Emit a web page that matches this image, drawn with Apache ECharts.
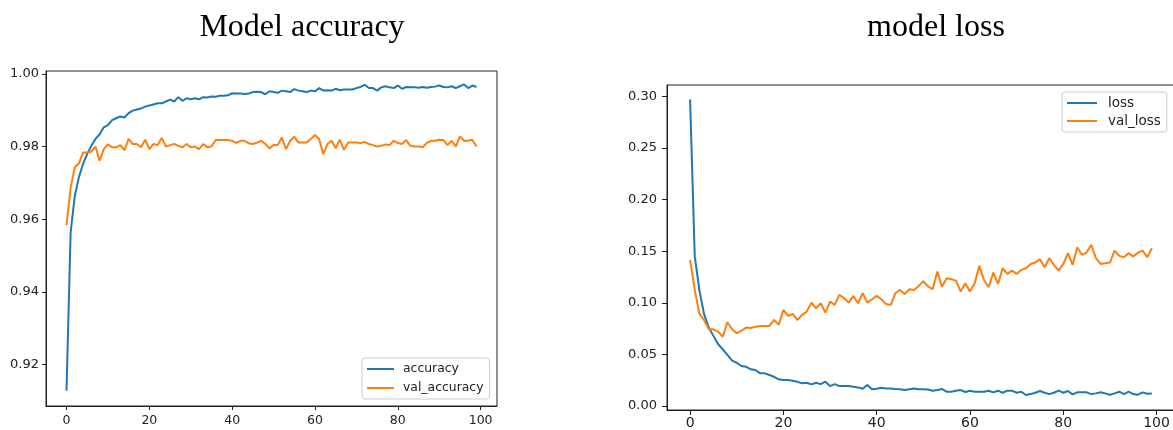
<!DOCTYPE html>
<html>
<head>
<meta charset="utf-8">
<script src="https://cdn.jsdelivr.net/npm/echarts@6/dist/echarts.min.js"></script>
<style>
html,body{margin:0;padding:0;background:#fff;overflow:hidden;}
#chart{width:1173px;height:430px;}
</style>
</head>
<body>
<div id="chart"></div>
<script>
// ---- data ----
const epochTicks = [0, 20, 40, 60, 80, 100];
const accTicks = [0.92, 0.94, 0.96, 0.98, 1.00];
const lossTicks = [0.00, 0.05, 0.10, 0.15, 0.20, 0.25, 0.30];

const accuracy = [
 0.9128,0.9564,0.9664,0.9716,0.9752,0.9780,0.9802,0.9821,0.9834,0.9853,
 0.9859,0.9873,0.9878,0.9883,0.9880,0.9892,0.9899,0.9902,0.9905,0.9910,
 0.9913,0.9916,0.9919,0.9919,0.9924,0.9929,0.9924,0.9936,0.9926,0.9933,
 0.9930,0.9933,0.9930,0.9936,0.9935,0.9938,0.9937,0.9940,0.9940,0.9941,
 0.9947,0.9946,0.9946,0.9945,0.9946,0.9950,0.9951,0.9950,0.9944,0.9952,
 0.9950,0.9948,0.9954,0.9952,0.9950,0.9958,0.9954,0.9952,0.9950,0.9954,
 0.9952,0.9961,0.9954,0.9955,0.9954,0.9959,0.9955,0.9957,0.9957,0.9957,
 0.9961,0.9964,0.9970,0.9961,0.9961,0.9954,0.9963,0.9966,0.9963,0.9961,
 0.9968,0.9959,0.9964,0.9963,0.9963,0.9962,0.9964,0.9962,0.9964,0.9965,
 0.9968,0.9964,0.9963,0.9966,0.9961,0.9966,0.9971,0.9961,0.9968,0.9964
];
const valAccuracy = [
 0.9584,0.9687,0.9743,0.9754,0.9784,0.9784,0.9786,0.9800,0.9761,0.9793,
 0.9806,0.9798,0.9798,0.9804,0.9790,0.9821,0.9807,0.9807,0.9798,0.9819,
 0.9793,0.9807,0.9804,0.9824,0.9800,0.9804,0.9807,0.9802,0.9798,0.9807,
 0.9798,0.9800,0.9793,0.9807,0.9798,0.9800,0.9818,0.9818,0.9818,0.9818,
 0.9816,0.9810,0.9816,0.9816,0.9809,0.9807,0.9811,0.9816,0.9807,0.9795,
 0.9804,0.9804,0.9825,0.9793,0.9816,0.9827,0.9811,0.9811,0.9811,0.9821,
 0.9832,0.9821,0.9779,0.9807,0.9816,0.9795,0.9819,0.9791,0.9811,0.9811,
 0.9811,0.9810,0.9813,0.9807,0.9804,0.9800,0.9802,0.9806,0.9804,0.9816,
 0.9810,0.9807,0.9818,0.9802,0.9800,0.9800,0.9798,0.9810,0.9816,0.9816,
 0.9819,0.9818,0.9804,0.9816,0.9800,0.9828,0.9816,0.9816,0.9819,0.9800
];
const loss = [
 0.2970,0.1450,0.1120,0.0890,0.0760,0.0680,0.0601,0.0550,0.0495,0.0440,
 0.0420,0.0388,0.0381,0.0356,0.0349,0.0317,0.0317,0.0301,0.0284,0.0259,
 0.0252,0.0252,0.0245,0.0236,0.0220,0.0226,0.0210,0.0226,0.0213,0.0236,
 0.0194,0.0213,0.0194,0.0194,0.0194,0.0187,0.0181,0.0168,0.0204,0.0162,
 0.0168,0.0178,0.0171,0.0171,0.0165,0.0162,0.0155,0.0162,0.0171,0.0162,
 0.0164,0.0160,0.0149,0.0155,0.0165,0.0139,0.0139,0.0149,0.0155,0.0136,
 0.0149,0.0139,0.0139,0.0139,0.0149,0.0133,0.0149,0.0129,0.0149,0.0149,
 0.0129,0.0139,0.0107,0.0116,0.0129,0.0146,0.0129,0.0116,0.0129,0.0149,
 0.0129,0.0146,0.0113,0.0133,0.0133,0.0133,0.0116,0.0123,0.0133,0.0123,
 0.0110,0.0123,0.0139,0.0116,0.0139,0.0116,0.0110,0.0133,0.0120,0.0123
];
const valLoss = [
 0.1416,0.1125,0.0892,0.0834,0.0744,0.0744,0.0721,0.0672,0.0812,0.0744,
 0.0705,0.0730,0.0760,0.0757,0.0769,0.0776,0.0776,0.0776,0.0834,0.0786,
 0.0931,0.0873,0.0892,0.0834,0.0883,0.0915,0.1002,0.0947,0.0996,0.0905,
 0.1012,0.0980,0.1077,0.1045,0.1002,0.1067,0.0996,0.1093,0.1002,0.1035,
 0.1067,0.1035,0.0989,0.0980,0.1093,0.1125,0.1086,0.1132,0.1125,0.1164,
 0.1209,0.1160,0.1132,0.1303,0.1157,0.1238,0.1228,0.1215,0.1109,0.1190,
 0.1109,0.1190,0.1358,0.1222,0.1151,0.1293,0.1183,0.1335,0.1280,0.1312,
 0.1280,0.1319,0.1335,0.1377,0.1390,0.1423,0.1345,0.1432,0.1368,0.1312,
 0.1377,0.1481,0.1368,0.1539,0.1465,0.1487,0.1562,0.1432,0.1377,0.1384,
 0.1390,0.1506,0.1455,0.1442,0.1481,0.1448,0.1487,0.1506,0.1442,0.1529
];

const BLUE = '#1f77b4', ORANGE = '#ff7f0e';
const pairs = arr => arr.map((v, i) => [i, v]);

function mkX(gi, fs, tickLen, margin) {
  return {
    type: 'value', gridIndex: gi, min: -4.95, max: 103.95,
    splitLine: { show: false },
    axisLine: { show: true, onZero: false, lineStyle: { color: '#222', width: 1 } },
    axisTick: { show: true, length: tickLen, customValues: epochTicks, lineStyle: { color: '#222' } },
    axisLabel: { customValues: epochTicks, fontSize: fs, color: '#222', margin: margin,
                 fontFamily: 'DejaVu Sans', formatter: v => String(v) }
  };
}
function mkY(gi, min, max, ticks, tickLen, margin) {
  return {
    type: 'value', gridIndex: gi, min: min, max: max,
    splitLine: { show: false },
    axisLine: { show: true, onZero: false, lineStyle: { color: '#222', width: 1 } },
    axisTick: { show: true, length: tickLen, customValues: ticks, lineStyle: { color: '#222' } },
    axisLabel: { customValues: ticks, fontSize: 13, color: '#222', margin: margin,
                 fontFamily: 'DejaVu Sans', formatter: v => v.toFixed(2) }
  };
}
function mkSeries(name, data, color, xi, yi) {
  return {
    name: name, type: 'line', data: pairs(data), xAxisIndex: xi, yAxisIndex: yi,
    showSymbol: false, symbol: 'none', color: color,
    lineStyle: { color: color, width: 2 }, itemStyle: { color: color }
  };
}

const chart = echarts.init(document.getElementById('chart'), null, { renderer: 'canvas' });
chart.setOption({
  animation: false,
  backgroundColor: '#fff',
  title: [
    { text: 'Model accuracy', left: 297, top: 7, textAlign: 'center',
      textStyle: { fontFamily: 'Liberation Serif', fontSize: 32, fontWeight: 'normal', color: '#000' } },
    { text: 'model loss', left: 931, top: 7, textAlign: 'center',
      textStyle: { fontFamily: 'Liberation Serif', fontSize: 32, fontWeight: 'normal', color: '#000' } }
  ],
  grid: [
    { left: 46, top: 71, width: 451, height: 335, show: true, borderColor: '#222', borderWidth: 1,
      backgroundColor: 'transparent', containLabel: false, outerBoundsMode: 'none' },
    { left: 667, top: 85, width: 508, height: 325, show: true, borderColor: '#222', borderWidth: 1,
      backgroundColor: 'transparent', containLabel: false, outerBoundsMode: 'none' }
  ],
  xAxis: [ mkX(0, 12.5, 4, 8), mkX(1, 14, 5, 6) ],
  yAxis: [ mkY(0, 0.9086, 1.0008, accTicks, 4, 7), mkY(1, -0.0038, 0.3110, lossTicks, 5, 10) ],
  legend: [
    { data: ['accuracy', 'val_accuracy'], orient: 'vertical', left: 362, top: 358,
      icon: 'rect', itemWidth: 27, itemHeight: 2, itemGap: 5,
      padding: [4, 6, 4, 5], backgroundColor: 'rgba(255,255,255,0.85)',
      borderColor: '#cccccc', borderWidth: 1, borderRadius: 3,
      textStyle: { fontFamily: 'DejaVu Sans', fontSize: 12.4, color: '#222', lineHeight: 14, padding: [0, 0, 0, 4] } },
    { data: ['loss', 'val_loss'], orient: 'vertical', left: 1062, top: 92,
      icon: 'rect', itemWidth: 30, itemHeight: 2, itemGap: 4,
      padding: [4, 6, 4, 5], backgroundColor: 'rgba(255,255,255,0.85)',
      borderColor: '#cccccc', borderWidth: 1, borderRadius: 3,
      textStyle: { fontFamily: 'DejaVu Sans', fontSize: 13.5, color: '#222', lineHeight: 14, padding: [0, 0, 0, 6] } }
  ],
  series: [
    mkSeries('accuracy', accuracy, BLUE, 0, 0),
    mkSeries('val_accuracy', valAccuracy, ORANGE, 0, 0),
    mkSeries('loss', loss, BLUE, 1, 1),
    mkSeries('val_loss', valLoss, ORANGE, 1, 1)
  ]
});
</script>
</body>
</html>
